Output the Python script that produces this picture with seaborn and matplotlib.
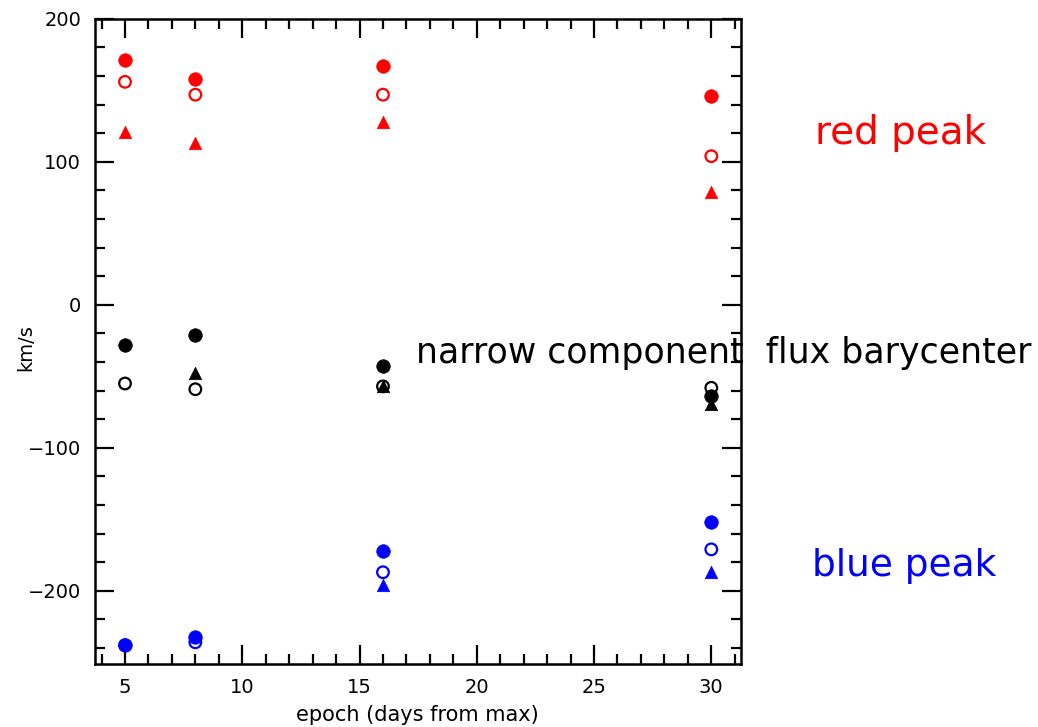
import numpy as np
import pandas as pd
import matplotlib
matplotlib.use("Agg")
import matplotlib.pyplot as plt
from matplotlib.ticker import MultipleLocator
import seaborn as sns

# Epochs (days from maximum light)
epoch = [5, 8, 16, 30]

# Red peak velocities (km/s)
red_filled = [171, 158, 167, 146]
red_open = [156, 147, 147, 104]
red_tri = [121, 113, 128, 79]

# Narrow component / flux barycenter velocities (km/s)
black_filled = [-28, -21, -43, -64]
black_open = [-55, -59, -57, -58]
black_tri = [np.nan, -48, -57, -69]

# Blue peak velocities (km/s)
blue_filled = [-238, -232, -172, -152]
blue_open = [-238, -236, -187, -171]
blue_tri = [np.nan, np.nan, -196, -187]

sns.set_theme(style="white")
plt.rcParams["font.family"] = ["DejaVu Sans"]

fig = plt.figure(figsize=(10.38, 7.27), dpi=100)
ax = fig.add_axes([0.0915, 0.087, 0.622, 0.887])

series = [
    (red_filled, "red", "filled_o"), (red_open, "red", "open_o"), (red_tri, "red", "tri"),
    (black_filled, "black", "filled_o"), (black_open, "black", "open_o"), (black_tri, "black", "tri"),
    (blue_filled, "blue", "filled_o"), (blue_open, "blue", "open_o"), (blue_tri, "blue", "tri"),
]

for vals, col, kind in series:
    df = pd.DataFrame({"epoch": epoch, "v": vals}).dropna()
    if kind == "filled_o":
        sns.scatterplot(data=df, x="epoch", y="v", ax=ax, marker="o", s=95,
                        color=col, edgecolor=col, linewidth=0.5, zorder=4)
    elif kind == "open_o":
        sns.scatterplot(data=df, x="epoch", y="v", ax=ax, marker="o", s=70,
                        facecolor="none", edgecolor=col, linewidth=1.6, zorder=3)
    else:
        sns.scatterplot(data=df, x="epoch", y="v", ax=ax, marker="^", s=80,
                        color=col, edgecolor=col, linewidth=0.5, zorder=2)

ax.set_xlim(3.72, 31.25)
ax.set_ylim(-251, 200)
ax.xaxis.set_major_locator(MultipleLocator(5))
ax.xaxis.set_minor_locator(MultipleLocator(1))
ax.yaxis.set_major_locator(MultipleLocator(100))
ax.yaxis.set_minor_locator(MultipleLocator(20))
ax.tick_params(which="both", direction="in", top=True, right=True,
               bottom=True, left=True, colors="black", width=1.6)
ax.tick_params(which="major", length=14, labelsize=14, pad=10)
ax.tick_params(which="minor", length=7)
for sp in ax.spines.values():
    sp.set_color("black")
    sp.set_linewidth(1.8)

ax.set_xlabel("epoch (days from max)", fontsize=15, labelpad=6, color="black")
ax.set_ylabel("km/s", fontsize=14, color="black")
ax.yaxis.set_label_coords(-0.093, 0.49)

fig.text(0.868, 0.817, "red peak", color="red", fontsize=28, ha="center", va="center")
fig.text(0.697, 0.515, "narrow component  flux barycenter", color="black",
         fontsize=25, ha="center", va="center")
fig.text(0.871, 0.222, "blue peak", color="blue", fontsize=27, ha="center", va="center")

fig.savefig("out.png", dpi=100)
